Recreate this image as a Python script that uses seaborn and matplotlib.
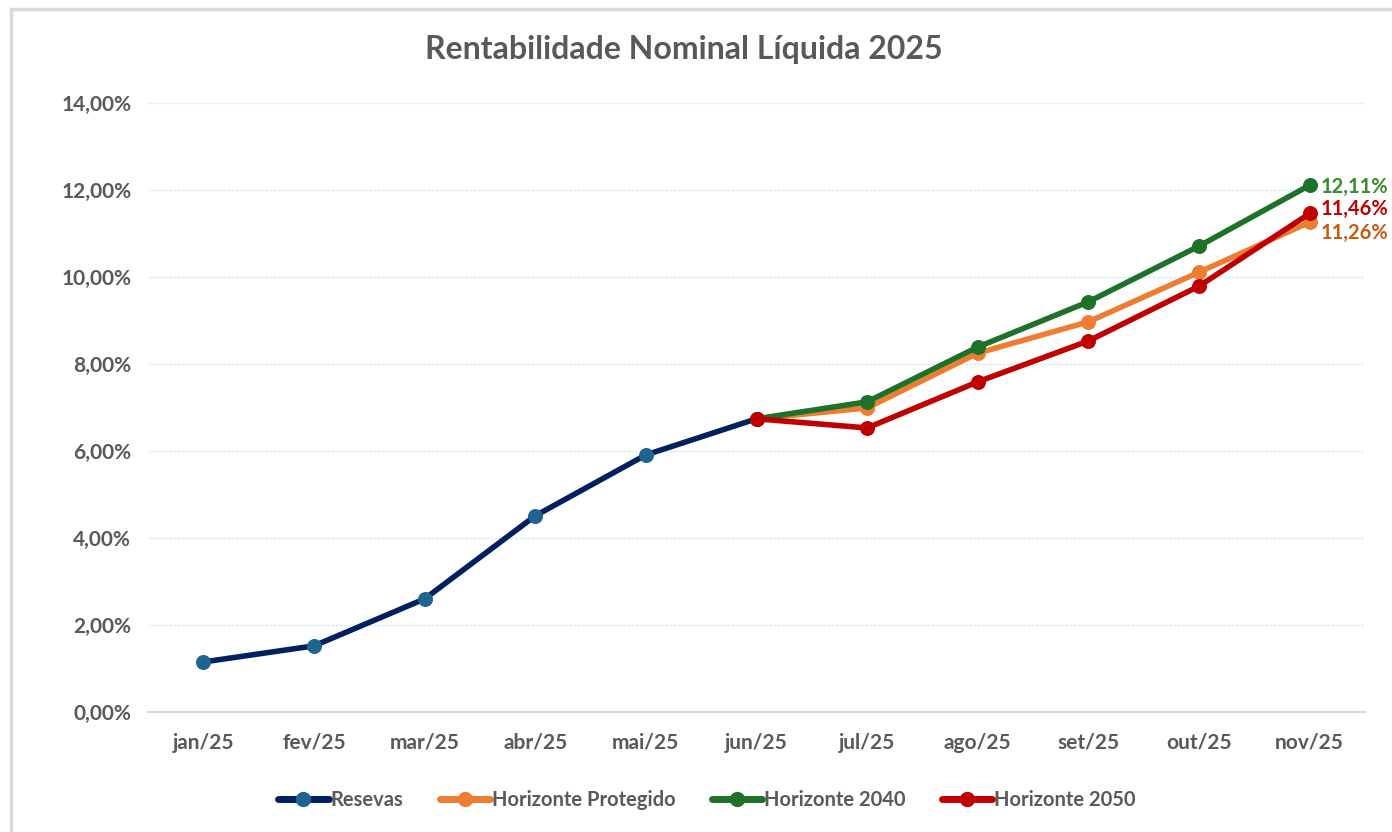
import matplotlib
matplotlib.use("Agg")
import matplotlib.pyplot as plt
import seaborn as sns
import numpy as np
from matplotlib.ticker import FuncFormatter, FixedLocator
from matplotlib.lines import Line2D
from matplotlib.patches import Rectangle

meses = ['jan/25', 'fev/25', 'mar/25', 'abr/25', 'mai/25', 'jun/25',
         'jul/25', 'ago/25', 'set/25', 'out/25', 'nov/25']

# rentabilidade acumulada (%)
reservas = [1.15, 1.52, 2.60, 4.51, 5.91, 6.74]
protegido = [6.74, 6.99, 8.25, 8.97, 10.11, 11.26]
h2040 = [6.74, 7.13, 8.39, 9.43, 10.71, 12.11]
h2050 = [6.74, 6.53, 7.59, 8.53, 9.79, 11.46]

nomes = ['Resevas', 'Horizonte Protegido', 'Horizonte 2040', 'Horizonte 2050']
cores_linha = ['#002060', '#ED7D31', '#1E7128', '#C00000']
cores_marca = ['#1F6391', '#ED7D31', '#1E7128', '#C00000']

sns.set_style('white')
plt.rcParams['font.family'] = ['Lato', 'DejaVu Sans']
cinza = '#595959'

fig = plt.figure(figsize=(13.92, 8.32), dpi=100)
ax = fig.add_axes([148/1392, 1-712/832, (1365-148)/1392, (712-103)/832])

# moldura do gráfico
fig.patches.append(Rectangle((11/1392, -0.1), 1.2, 1 - 9/832 + 0.1, transform=fig.transFigure,
                             fill=False, edgecolor='#D9D9D9', linewidth=2.5, zorder=0))

x_res = np.arange(0, 6)
x_fut = np.arange(5, 11)
series = [(x_res, reservas), (x_fut, protegido), (x_fut, h2040), (x_fut, h2050)]
for (xs, ys), nome, cl, cm in zip(series, nomes, cores_linha, cores_marca):
    sns.lineplot(x=xs, y=ys, ax=ax, color=cl, linewidth=4, marker='o', markersize=10,
                 markerfacecolor=cm, markeredgecolor=cm, label=nome, legend=False)

# rótulos finais (deslocados para não se sobreporem)
for ys, cor, dy in [(h2040, '#3A8A2E', -1.5), (h2050, '#C00000', 3), (protegido, '#C55A11', -8)]:
    ax.annotate(f'{ys[-1]:.2f}%'.replace('.', ','), xy=(10, ys[-1]), xytext=(8, dy),
                textcoords='offset points', va='center', ha='left', fontsize=14.5,
                fontweight='bold', color=cor, annotation_clip=False)

ax.set_xlim(-0.5, 10.5)
ax.set_ylim(0, 14)
ax.yaxis.set_major_locator(FixedLocator(np.arange(0, 15, 2)))
ax.yaxis.set_major_formatter(FuncFormatter(lambda v, p: f'{v:.2f}%'.replace('.', ',')))
ax.set_xticks(range(len(meses)))
ax.set_xticklabels(meses)
ax.xaxis.set_minor_locator(FixedLocator(np.arange(-0.5, 11, 1)))
ax.tick_params(axis='x', which='major', length=0, pad=15, labelsize=15, labelcolor=cinza)
ax.tick_params(axis='x', which='minor', length=6, width=1.5, color='#D9D9D9', direction='out')
ax.tick_params(axis='y', length=0, pad=12, labelsize=15, labelcolor=cinza)
for lab in ax.get_xticklabels() + ax.get_yticklabels():
    lab.set_fontweight('bold')

ax.grid(axis='y', color='#D4ECF7', linewidth=1, linestyle=(0, (2, 1)))
ax.set_axisbelow(True)
for s in ['top', 'right', 'left']:
    ax.spines[s].set_visible(False)
ax.spines['bottom'].set_color('#D9D9D9')
ax.spines['bottom'].set_linewidth(1.5)
ax.set_xlabel('')
ax.set_ylabel('')

fig.text(684/1392, 1 - 50/832, 'Rentabilidade Nominal Líquida 2025', ha='center', va='center',
         fontsize=23, fontweight='bold', color=cinza)

handles = [Line2D([0], [0], color=cl, linewidth=5, marker='o', markersize=10,
                  markerfacecolor=cm, markeredgecolor=cm) for cl, cm in zip(cores_linha, cores_marca)]
leg = fig.legend(handles, nomes, loc='center', bbox_to_anchor=(707/1392, 1 - 800/832), ncol=4,
                 frameon=False, fontsize=14.5, handlelength=2.5, handletextpad=0.1, columnspacing=1.8,
                 labelcolor=cinza)
for t in leg.get_texts():
    t.set_fontweight('bold')

fig.savefig('out.png', dpi=100, facecolor='white')
